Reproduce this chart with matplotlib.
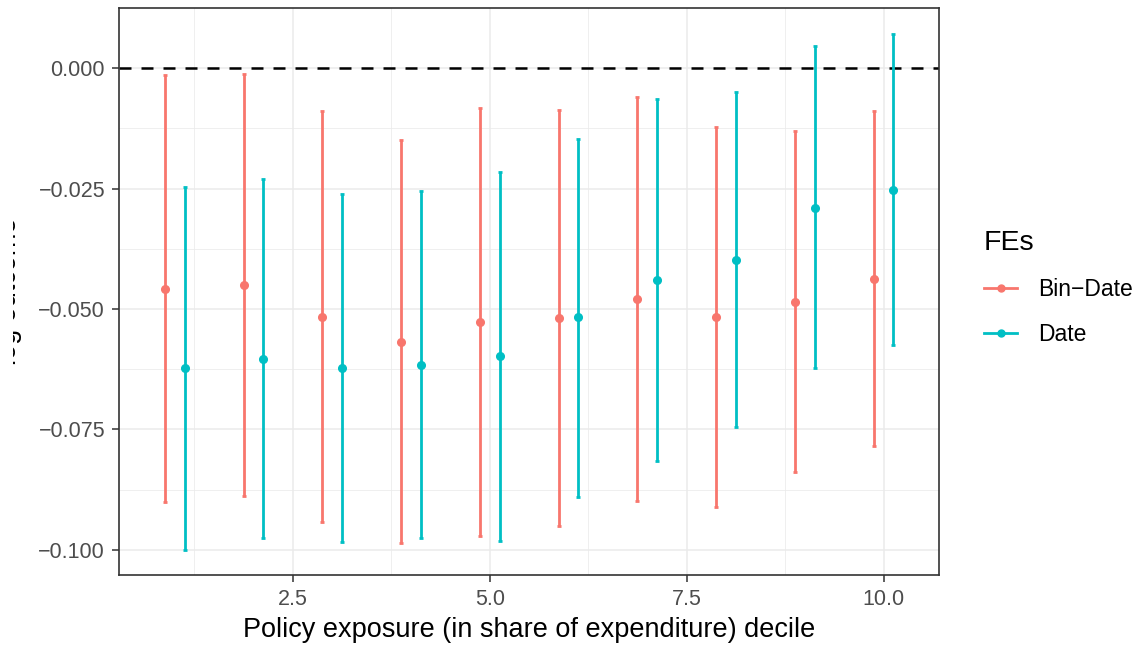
import matplotlib
matplotlib.use("Agg")
import matplotlib.pyplot as plt
from matplotlib.lines import Line2D
from matplotlib.transforms import Bbox, TransformedBbox
import numpy as np

plt.rcParams['font.family'] = ['Liberation Sans', 'DejaVu Sans']

deciles = np.arange(1, 11)
groups = ["Bin\u2212Date", "Date"]
colors = ["#F8766D", "#00BFC4"]

# point estimates and 95% CI bounds per decile
est_bin = [-0.0458, -0.0451, -0.0516, -0.0568, -0.0527, -0.0519, -0.0479, -0.0517, -0.0485, -0.0438]
lo_bin = [-0.0900, -0.0888, -0.0942, -0.0985, -0.0971, -0.0950, -0.0898, -0.0911, -0.0839, -0.0785]
hi_bin = [-0.0015, -0.0013, -0.0089, -0.0149, -0.0083, -0.0087, -0.0061, -0.0123, -0.0131, -0.0089]

est_date = [-0.0623, -0.0603, -0.0622, -0.0616, -0.0597, -0.0517, -0.0440, -0.0398, -0.0290, -0.0253]
lo_date = [-0.1000, -0.0975, -0.0983, -0.0975, -0.0981, -0.0890, -0.0815, -0.0745, -0.0623, -0.0575]
hi_date = [-0.0247, -0.0230, -0.0261, -0.0255, -0.0216, -0.0147, -0.0065, -0.0050, 0.0045, 0.0071]

fig = plt.figure(figsize=(11.46, 6.49), dpi=100)
ax = fig.add_axes([119 / 1146, 1 - 575 / 649, 820 / 1146, 567 / 649])

dodge = 0.125
series = [(est_bin, lo_bin, hi_bin), (est_date, lo_date, hi_date)]
for i, (est, lo, hi) in enumerate(series):
    x = deciles + (2 * i - 1) * dodge
    est = np.array(est)
    yerr = [est - np.array(lo), np.array(hi) - est]
    ax.errorbar(x, est, yerr=yerr, fmt="o", color=colors[i], ms=5.5,
                elinewidth=2.0, capsize=1.3, capthick=2.0, zorder=3)

ax.axhline(0, color="black", lw=1.8, ls=(0, (4.8, 4.0)), zorder=2)

ax.set_xlim(0.292, 10.704)
ax.set_ylim(-0.10519, 0.01245)
ax.set_xticks([2.5, 5.0, 7.5, 10.0])
ax.set_xticklabels(["2.5", "5.0", "7.5", "10.0"])
ax.set_xticks([1.25, 3.75, 6.25, 8.75], minor=True)
yt = [0.0, -0.025, -0.05, -0.075, -0.1]
ax.set_yticks(yt)
ax.set_yticklabels([f"{v:.3f}".replace("-", "\u2212") for v in yt])
ax.set_yticks([-0.0125, -0.0375, -0.0625, -0.0875], minor=True)

ax.grid(which="major", color="#EBEBEB", lw=1.1, zorder=0)
ax.grid(which="minor", color="#EBEBEB", lw=0.55, zorder=0)
ax.set_axisbelow(True)
for s in ax.spines.values():
    s.set_color("#333333")
    s.set_linewidth(1.2)
ax.tick_params(which="major", length=5, width=1.1, color="#333333",
               labelcolor="#4D4D4D", labelsize=15.5, pad=5)
ax.tick_params(which="minor", length=0)

ax.set_xlabel("Policy exposure (in share of expenditure) decile", fontsize=19.5, labelpad=5)

# y title sits partly past the left edge; only its lower strip shows
ylab = fig.text(22 / 1146, 1 - 291.5 / 649, "log outcome", rotation=90, ha="right",
                va="center", fontsize=19.5, clip_on=True)
ylab.set_clip_box(TransformedBbox(Bbox([[13 / 1146, 0], [1, 1]]), fig.transFigure))

handles = [Line2D([], [], color=c, marker="o", ms=5, lw=2.0) for c in colors]
leg = ax.legend(handles, groups, title="FEs", loc="upper left",
                bbox_to_anchor=(984 / 1146, 1 - 230 / 649), bbox_transform=fig.transFigure,
                frameon=False, fontsize=16.5, title_fontsize=20.5, handlelength=1.45,
                handletextpad=0.9, labelspacing=0.95, borderaxespad=0, borderpad=0)
leg._legend_box.align = "left"

fig.savefig("out.png", dpi=100)
